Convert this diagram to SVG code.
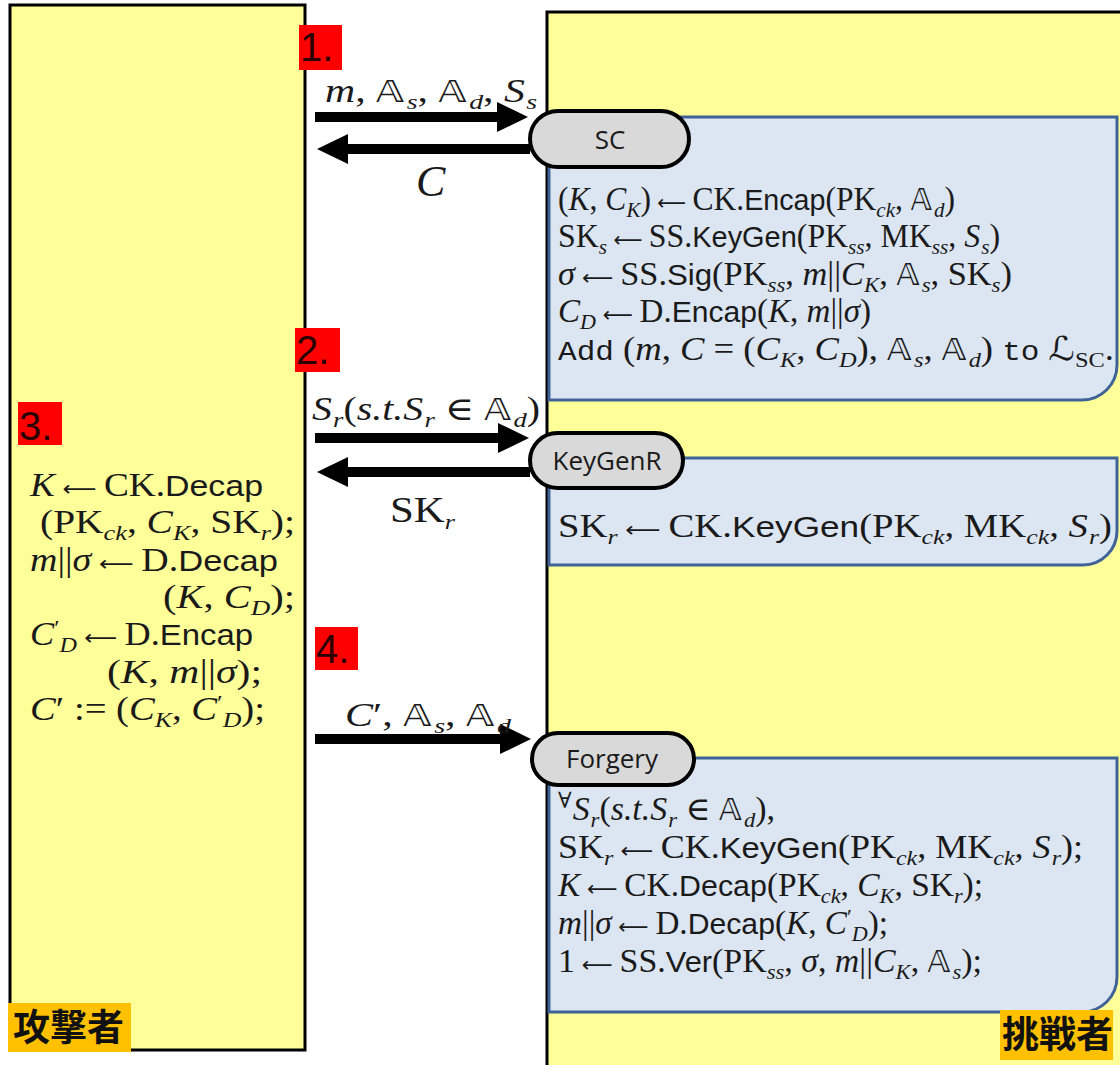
<svg xmlns="http://www.w3.org/2000/svg" width="1120" height="1065" viewBox="0 0 1120 1065">
<style>
.mt{font-family:"Liberation Serif","DejaVu Serif","DejaVu Sans",serif;font-size:33px;fill:#1a1a1a}
.it{font-style:italic}
.ar{font-family:"DejaVu Sans",sans-serif;font-size:21px;font-style:normal}
.sf{font-family:"Liberation Sans","DejaVu Sans",sans-serif;font-size:30px}
.tt{font-family:"Liberation Mono","DejaVu Sans Mono",monospace;font-size:28px}
.sb{font-size:22px}
.bb{font-family:"DejaVu Sans","DejaVu Serif",sans-serif;font-style:normal;font-size:30px}
.pill{fill:#D9D9D9;stroke:#000;stroke-width:4}
.pl{font-family:"Open Sans","Liberation Sans",sans-serif;font-size:26px;fill:#1a1a1a;text-anchor:middle}
.blue{fill:#DCE6F2;stroke:#3F6397;stroke-width:3}
.panel{fill:#FFFF99;stroke:#000;stroke-width:3}
.red{fill:#FF0000}
.num{font-family:"Liberation Sans",sans-serif;font-size:40px;fill:#2a0000}
.org{fill:#FFC000}
.jp{font-family:"Noto Sans CJK JP",sans-serif;font-size:37px;font-weight:700;fill:#111}
.arr{stroke:#000;stroke-width:10;fill:none;marker-end:url(#ah)}
</style>
<defs>
<marker id="ah" markerUnits="userSpaceOnUse" markerWidth="32" markerHeight="30" refX="1" refY="15" orient="auto" viewBox="0 0 32 30"><path d="M0,0 L31,15 L0,30 Z" fill="#000"/></marker>
</defs>
<rect width="1120" height="1065" fill="#fff"/>

<g id="attacker">
<rect class="panel" x="10" y="5" width="295" height="1045"/>
<rect class="red" x="18" y="402" width="44" height="43"/>
<text class="num" x="19" y="440">3.</text>
<text class="mt" x="30" y="496" textLength="233" lengthAdjust="spacingAndGlyphs"><tspan class="it">K</tspan><tspan class="ar"> ⟵ </tspan>CK.<tspan class="sf">Decap</tspan></text>
<text class="mt" x="40" y="533" textLength="255" lengthAdjust="spacingAndGlyphs">(PK<tspan class="sb it" dy="7">ck</tspan><tspan dy="-7">, </tspan><tspan class="it">C</tspan><tspan class="sb it" dy="7">K</tspan><tspan dy="-7">, SK</tspan><tspan class="sb it" dy="7">r</tspan><tspan dy="-7">);</tspan></text>
<text class="mt" x="30" y="571" textLength="248" lengthAdjust="spacingAndGlyphs"><tspan class="it">m</tspan>||<tspan class="it">σ</tspan><tspan class="ar"> ⟵ </tspan>D.<tspan class="sf">Decap</tspan></text>
<text class="mt" x="163" y="608" textLength="132" lengthAdjust="spacingAndGlyphs">(<tspan class="it">K</tspan>, <tspan class="it">C</tspan><tspan class="sb it" dy="7">D</tspan><tspan dy="-7">);</tspan></text>
<text class="mt" x="30" y="645" textLength="223" lengthAdjust="spacingAndGlyphs"><tspan class="it">C</tspan><tspan class="sb" dy="-10">′</tspan><tspan class="sb it" dy="17">D</tspan><tspan class="ar" dy="-7"> ⟵ </tspan>D.<tspan class="sf">Encap</tspan></text>
<text class="mt" x="107" y="683" textLength="155" lengthAdjust="spacingAndGlyphs">(<tspan class="it">K</tspan>, <tspan class="it">m</tspan>||<tspan class="it">σ</tspan>);</text>
<text class="mt" x="30" y="720" textLength="235" lengthAdjust="spacingAndGlyphs"><tspan class="it">C</tspan>′ := (<tspan class="it">C</tspan><tspan class="sb it" dy="7">K</tspan><tspan dy="-7">, </tspan><tspan class="it">C</tspan><tspan class="sb" dy="-10">′</tspan><tspan class="sb it" dy="17">D</tspan><tspan dy="-7">);</tspan></text>
<rect class="org" x="8" y="1003" width="123" height="49"/>
<text class="jp" x="13" y="1041">攻撃者</text>
</g>

<g id="challenger">
<rect class="panel" x="547" y="12" width="600" height="1080"/>
</g>

<g id="sc">
<path class="blue" d="M549,117 H1117 V365 A35,35 0 0 1 1082,400 H549 Z"/>
<text class="mt" x="558" y="210" textLength="397" lengthAdjust="spacingAndGlyphs">(<tspan class="it">K</tspan>, <tspan class="it">C</tspan><tspan class="sb it" dy="7">K</tspan><tspan dy="-7">)</tspan><tspan class="ar"> ⟵ </tspan>CK.<tspan class="sf">Encap</tspan>(PK<tspan class="sb it" dy="7">ck</tspan><tspan dy="-7">, </tspan><tspan class="bb">𝔸</tspan><tspan class="sb it" dx="2" dy="7">d</tspan><tspan dy="-7">)</tspan></text>
<text class="mt" x="558" y="247" textLength="442" lengthAdjust="spacingAndGlyphs">SK<tspan class="sb it" dy="7">s</tspan><tspan class="ar" dy="-7"> ⟵ </tspan>SS.<tspan class="sf">KeyGen</tspan>(PK<tspan class="sb it" dy="7">ss</tspan><tspan dy="-7">, MK</tspan><tspan class="sb it" dy="7">ss</tspan><tspan dy="-7">, </tspan><tspan class="it">S</tspan><tspan class="sb it" dx="1" dy="7">s</tspan><tspan dy="-7">)</tspan></text>
<text class="mt" x="558" y="285" textLength="454" lengthAdjust="spacingAndGlyphs"><tspan class="it">σ</tspan><tspan class="ar"> ⟵ </tspan>SS.<tspan class="sf">Sig</tspan>(PK<tspan class="sb it" dy="7">ss</tspan><tspan dy="-7">, </tspan><tspan class="it">m</tspan>||<tspan class="it">C</tspan><tspan class="sb it" dy="7">K</tspan><tspan dy="-7">, </tspan><tspan class="bb">𝔸</tspan><tspan class="sb it" dx="2" dy="7">s</tspan><tspan dy="-7">, SK</tspan><tspan class="sb it" dy="7">s</tspan><tspan dy="-7">)</tspan></text>
<text class="mt" x="558" y="322" textLength="313" lengthAdjust="spacingAndGlyphs"><tspan class="it">C</tspan><tspan class="sb it" dy="7">D</tspan><tspan class="ar" dy="-7"> ⟵ </tspan>D.<tspan class="sf">Encap</tspan>(<tspan class="it">K</tspan>, <tspan class="it">m</tspan>||<tspan class="it">σ</tspan>)</text>
<text class="mt" x="558" y="360" textLength="556" lengthAdjust="spacingAndGlyphs"><tspan class="tt">Add</tspan> (<tspan class="it">m</tspan>, <tspan class="it">C</tspan> = (<tspan class="it">C</tspan><tspan class="sb it" dy="7">K</tspan><tspan dy="-7">, </tspan><tspan class="it">C</tspan><tspan class="sb it" dy="7">D</tspan><tspan dy="-7">), </tspan><tspan class="bb">𝔸</tspan><tspan class="sb it" dx="2" dy="7">s</tspan><tspan dy="-7">, </tspan><tspan class="bb">𝔸</tspan><tspan class="sb it" dx="2" dy="7">d</tspan><tspan dy="-7">) </tspan><tspan class="tt">to</tspan> <tspan class="it">ℒ</tspan><tspan class="sb" dy="7">SC</tspan><tspan dy="-7">.</tspan></text>
<rect class="pill" x="530" y="111" width="159" height="56" rx="28"/>
<text class="pl" x="610" y="149">SC</text>
</g>

<g id="keygenr">
<path class="blue" d="M549,458 H1117 V531 A34,34 0 0 1 1083,565 H549 Z"/>
<text class="mt" x="558" y="537" textLength="554" lengthAdjust="spacingAndGlyphs">SK<tspan class="sb it" dy="7">r</tspan><tspan class="ar" dy="-7"> ⟵ </tspan>CK.<tspan class="sf">KeyGen</tspan>(PK<tspan class="sb it" dy="7">ck</tspan><tspan dy="-7">, MK</tspan><tspan class="sb it" dy="7">ck</tspan><tspan dy="-7">, </tspan><tspan class="it">S</tspan><tspan class="sb it" dx="1" dy="7">r</tspan><tspan dy="-7">)</tspan></text>
<rect class="pill" x="530" y="433" width="153" height="55" rx="27.5"/>
<text class="pl" x="607" y="470">KeyGenR</text>
</g>

<g id="forgery">
<path class="blue" d="M549,758 H1117 V977 A35,35 0 0 1 1082,1012 H549 Z"/>
<text class="mt" x="558" y="820" textLength="217" lengthAdjust="spacingAndGlyphs"><tspan class="sb" dy="-12">∀</tspan><tspan class="it" dx="1" dy="12">S</tspan><tspan class="sb it" dx="1" dy="7">r</tspan><tspan dy="-7">(</tspan><tspan class="it">s.t.S</tspan><tspan class="sb it" dx="1" dy="7">r</tspan><tspan dy="-7"> ∈ </tspan><tspan class="bb">𝔸</tspan><tspan class="sb it" dx="2" dy="7">d</tspan><tspan dy="-7">),</tspan></text>
<text class="mt" x="558" y="858" textLength="525" lengthAdjust="spacingAndGlyphs">SK<tspan class="sb it" dy="7">r</tspan><tspan class="ar" dy="-7"> ⟵ </tspan>CK.<tspan class="sf">KeyGen</tspan>(PK<tspan class="sb it" dy="7">ck</tspan><tspan dy="-7">, MK</tspan><tspan class="sb it" dy="7">ck</tspan><tspan dy="-7">, </tspan><tspan class="it">S</tspan><tspan class="sb it" dx="1" dy="7">r</tspan><tspan dy="-7">);</tspan></text>
<text class="mt" x="558" y="896" textLength="425" lengthAdjust="spacingAndGlyphs"><tspan class="it">K</tspan><tspan class="ar"> ⟵ </tspan>CK.<tspan class="sf">Decap</tspan>(PK<tspan class="sb it" dy="7">ck</tspan><tspan dy="-7">, </tspan><tspan class="it">C</tspan><tspan class="sb it" dy="7">K</tspan><tspan dy="-7">, SK</tspan><tspan class="sb it" dy="7">r</tspan><tspan dy="-7">);</tspan></text>
<text class="mt" x="558" y="934" textLength="330" lengthAdjust="spacingAndGlyphs"><tspan class="it">m</tspan>||<tspan class="it">σ</tspan><tspan class="ar"> ⟵ </tspan>D.<tspan class="sf">Decap</tspan>(<tspan class="it">K</tspan>, <tspan class="it">C</tspan><tspan class="sb" dy="-10">′</tspan><tspan class="sb it" dy="17">D</tspan><tspan dy="-7">);</tspan></text>
<text class="mt" x="558" y="972" textLength="424" lengthAdjust="spacingAndGlyphs">1<tspan class="ar"> ⟵ </tspan>SS.<tspan class="sf">Ver</tspan>(PK<tspan class="sb it" dy="7">ss</tspan><tspan dy="-7">, </tspan><tspan class="it">σ</tspan>, <tspan class="it">m</tspan>||<tspan class="it">C</tspan><tspan class="sb it" dy="7">K</tspan><tspan dy="-7">, </tspan><tspan class="bb">𝔸</tspan><tspan class="sb it" dx="2" dy="7">s</tspan><tspan dy="-7">);</tspan></text>
<rect class="pill" x="532" y="733" width="162" height="52" rx="26"/>
<text class="pl" x="612" y="768">Forgery</text>
<rect class="org" x="1000" y="1010" width="113" height="50"/>
<text class="jp" x="1002" y="1048">挑戦者</text>
</g>

<g id="steps">
<rect class="red" x="299" y="25" width="43" height="45"/>
<text class="num" x="300" y="61">1.</text>
<rect class="red" x="295" y="328" width="45" height="44"/>
<text class="num" x="296" y="364">2.</text>
<rect class="red" x="315" y="627" width="43" height="43"/>
<text class="num" x="316" y="663">4.</text>
</g>

<g id="connectors">
<line class="arr" x1="315" y1="117" x2="498" y2="117"/>
<line class="arr" x1="530" y1="149" x2="347" y2="149"/>
<line class="arr" x1="315" y1="438" x2="499" y2="438"/>
<line class="arr" x1="530" y1="472" x2="347" y2="472"/>
<line class="arr" x1="315" y1="739" x2="501" y2="739"/>
<text class="mt" x="325" y="102" textLength="212" lengthAdjust="spacingAndGlyphs"><tspan class="it">m</tspan>, <tspan class="bb">𝔸</tspan><tspan class="sb it" dx="2" dy="7">s</tspan><tspan dy="-7">, </tspan><tspan class="bb">𝔸</tspan><tspan class="sb it" dx="2" dy="7">d</tspan><tspan dy="-7">, </tspan><tspan class="it">S</tspan><tspan class="sb it" dx="1" dy="7">s</tspan></text>
<text class="mt it" x="416" y="196" style="font-size:44px">C</text>
<text class="mt" x="312" y="420" textLength="228" lengthAdjust="spacingAndGlyphs"><tspan class="it">S</tspan><tspan class="sb it" dx="1" dy="7">r</tspan><tspan dy="-7">(</tspan><tspan class="it">s.t.S</tspan><tspan class="sb it" dx="1" dy="7">r</tspan><tspan dy="-7"> ∈ </tspan><tspan class="bb">𝔸</tspan><tspan class="sb it" dx="2" dy="7">d</tspan><tspan dy="-7">)</tspan></text>
<text class="mt" x="390" y="522" textLength="65" lengthAdjust="spacingAndGlyphs" style="font-size:36px">SK<tspan class="sb it" dy="7">r</tspan></text>
<text class="mt" x="345" y="726" textLength="166" lengthAdjust="spacingAndGlyphs"><tspan class="it">C</tspan>′, <tspan class="bb">𝔸</tspan><tspan class="sb it" dx="2" dy="7">s</tspan><tspan dy="-7">, </tspan><tspan class="bb">𝔸</tspan><tspan class="sb it" dx="2" dy="7">d</tspan></text>
</g>
</svg>
